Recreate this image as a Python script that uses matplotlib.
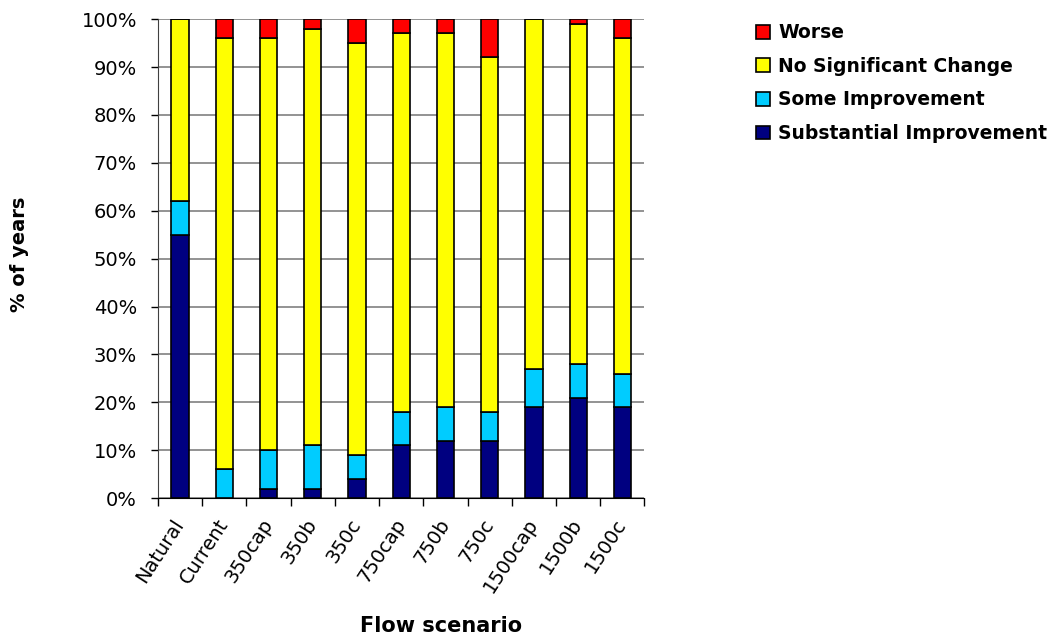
import matplotlib
matplotlib.use('Agg')
import matplotlib.pyplot as plt
import numpy as np

plt.rcParams['font.family'] = ['DejaVu Sans']

scenarios = ['Natural', 'Current', '350cap', '350b', '350c', '750cap',
             '750b', '750c', '1500cap', '1500b', '1500c']
substantial = [55, 0, 2, 2, 4, 11, 12, 12, 19, 21, 19]
some = [7, 6, 8, 9, 5, 7, 7, 6, 8, 7, 7]
no_change = [38, 90, 86, 87, 86, 79, 78, 74, 73, 71, 70]
worse = [0, 4, 4, 2, 5, 3, 3, 8, 0, 1, 4]

series = [
    ('Substantial Improvement', substantial, '#000080'),
    ('Some Improvement', some, '#00CCFF'),
    ('No Significant Change', no_change, '#FFFF00'),
    ('Worse', worse, '#FF0000'),
]

fig = plt.figure(figsize=(10.6, 6.37), dpi=100)
ax = fig.add_axes([0.149, 0.218, 0.459, 0.752])

x = np.arange(len(scenarios))
bottom = np.zeros(len(scenarios))
handles = []
for name, vals, color in series:
    bars = ax.bar(x, vals, 0.39, bottom=bottom, color=color,
                  edgecolor='black', linewidth=1.2, label=name, zorder=3)
    handles.append(bars)
    bottom += np.array(vals)

ax.set_xlim(-0.5, len(scenarios) - 0.5)
ax.set_ylim(0, 100)
ax.set_yticks(np.arange(0, 101, 10))
ax.set_yticklabels([f'{v}%' for v in range(0, 101, 10)], fontsize=14)
ax.yaxis.grid(True, color='#808080', linewidth=1.2, zorder=0)

ax.set_xticks(x)
ax.set_xticklabels(scenarios, rotation=57, ha='right', va='center',
                   rotation_mode='anchor', fontsize=14)
ax.tick_params(axis='x', which='major', length=0, pad=16)
ax.set_xticks(np.arange(-0.5, len(scenarios)), minor=True)
ax.tick_params(axis='x', which='minor', length=6, width=1, direction='out')
ax.tick_params(axis='y', length=5, width=1, direction='out', pad=10)

for side in ['top', 'right']:
    ax.spines[side].set_visible(False)
ax.spines['left'].set_color('#404040')
ax.spines['bottom'].set_color('black')

fig.text(0.018, 0.60, '% of years', fontsize=14, fontweight='bold',
         rotation=90, ha='center', va='center')
fig.text(0.416, 0.017, 'Flow scenario', fontsize=15, fontweight='bold',
         ha='center', va='center')

leg = fig.legend(handles[::-1], [s[0] for s in series][::-1],
                 loc='upper left', bbox_to_anchor=(0.697, 0.99),
                 frameon=False, handlelength=0.75, handleheight=0.75,
                 handletextpad=0.45, labelspacing=0.78,
                 prop={'size': 13.5, 'weight': 'bold'})

plt.savefig('out.png', dpi=100)
plt.close()
